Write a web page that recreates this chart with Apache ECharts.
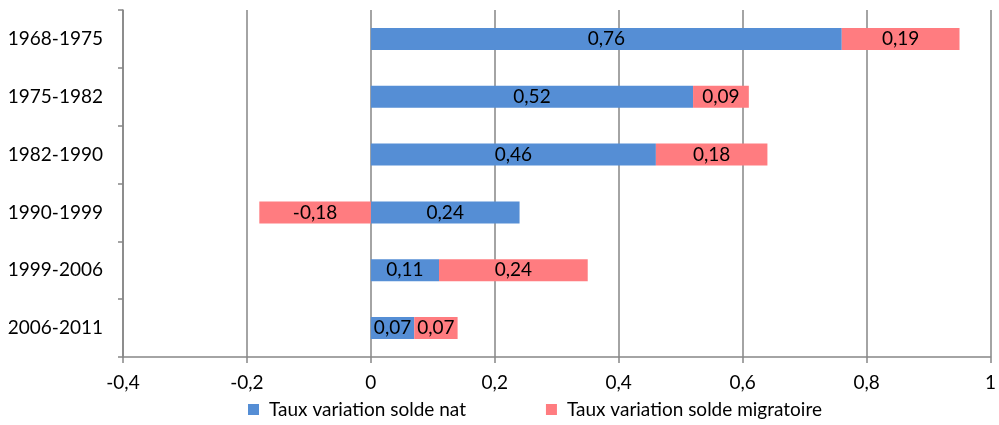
<!DOCTYPE html>
<html><head><meta charset="utf-8">
<script src="https://cdn.jsdelivr.net/npm/echarts@6/dist/echarts.min.js"></script>
<style>html,body{margin:0;padding:0;background:#fff}#c{width:999px;height:425px}</style>
</head><body><div id="c"></div>
<script>
const categories = ['1968-1975','1975-1982','1982-1990','1990-1999','1999-2006','2006-2011'];
const soldeNat = [0.76,0.52,0.46,0.24,0.11,0.07];
const soldeMig = [0.19,0.09,0.18,-0.18,0.24,0.07];
const seriesNames = ['Taux variation solde nat','Taux variation solde migratoire'];
const FONT = 'Lato';
const fmt = v => String(v).replace('.', ',');
const chart = echarts.init(document.getElementById('c'));
const lbl = {show:true, position:'inside', color:'#000', fontSize:19, fontFamily:FONT, formatter:p=>fmt(p.value)};
chart.setOption({
  animation:false,
  textStyle:{fontFamily:FONT},
  grid:{left:123, right:7, top:10, bottom:68},
  legend:{bottom:1, left:243, itemWidth:11, itemHeight:11, itemGap:80, icon:'rect',
    textStyle:{fontSize:19, color:'#000', fontFamily:FONT, padding:[0,0,0,5]}, data:seriesNames},
  xAxis:{type:'value', min:-0.4, max:1, interval:0.2,
    axisLine:{show:true, onZero:false, lineStyle:{color:'#868686', width:1.5}},
    axisTick:{show:true, length:6, lineStyle:{color:'#868686', width:1.5}},
    axisLabel:{color:'#000', fontSize:19, margin:16, fontFamily:FONT, formatter:v=>fmt(Math.round(v*10)/10)},
    splitLine:{show:true, lineStyle:{color:'#868686', width:1.5}}},
  yAxis:[
    {type:'category', data:categories, inverse:true, position:'left',
      axisLine:{show:false}, axisTick:{show:false},
      axisLabel:{color:'#000', fontSize:19, margin:20, fontFamily:FONT}},
    {type:'category', data:categories, inverse:true, position:'left',
      axisLine:{show:true, onZero:true, lineStyle:{color:'#868686', width:1.5}},
      axisTick:{show:true, length:5, lineStyle:{color:'#868686', width:1.5}},
      axisLabel:{show:false}}
  ],
  series:[
    {name:seriesNames[0], type:'bar', stack:'t', data:soldeNat, barWidth:22,
      itemStyle:{color:'#558ED5'}, label:lbl},
    {name:seriesNames[1], type:'bar', stack:'t', data:soldeMig, barWidth:22,
      itemStyle:{color:'#FF7C80'}, label:lbl}
  ]
});
</script></body></html>
